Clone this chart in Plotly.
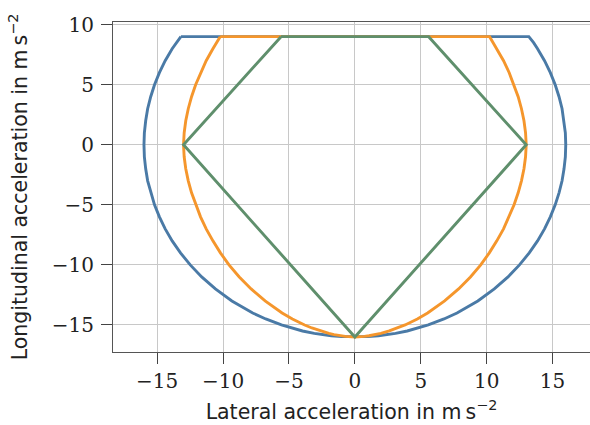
import plotly.graph_objects as go

# Right half of each envelope (top -> bottom), mirrored for the left half
blue_x_right = [13.2, 13.56, 13.86, 14.39, 14.83, 15.2, 15.49, 15.72, 15.87, 15.97, 16.0,
                15.97, 15.87, 15.72, 15.49, 15.2, 14.83, 14.39, 13.86, 13.23, 12.49,
                11.62, 10.58, 9.33, 7.75, 6.76, 5.57, 3.97, 3.08, 2.52, 1.79, 0.98, 0.0]
blue_y_right = [9, 8.5, 8, 7, 6, 5, 4, 3, 2, 1, 0,
                -1, -2, -3, -4, -5, -6, -7, -8, -9, -10,
                -11, -12, -13, -14, -14.5, -15, -15.5, -15.7, -15.8, -15.9, -15.97, -16]

orange_x_right = [10.22, 10.49, 10.77, 11.28, 11.71, 12.08, 12.39, 12.64, 12.83, 12.95, 13.0,
                  12.95, 12.83, 12.64, 12.39, 12.08, 11.71, 11.28, 10.77, 10.2, 9.55,
                  8.77, 7.87, 6.81, 5.52, 4.74, 3.81, 3.26, 2.61, 1.97, 1.58, 1.07, 0.73, 0.0]
orange_y_right = [9, 8.5, 8, 7, 6, 5, 4, 3, 2, 1, 0,
                  -1, -2, -3, -4, -5, -6, -7, -8, -9, -10,
                  -11, -12, -13, -14, -14.5, -15, -15.25, -15.5, -15.7, -15.8, -15.9, -15.95, -16]

green_x = [-5.6, 5.6, 13.0, 0.0, -13.0, -5.6]
green_y = [9, 9, 0, -16, 0, 9]

x_ticks = [-15, -10, -5, 0, 5, 10, 15]
y_ticks = [-15, -10, -5, 0, 5, 10]


def closed(xr, yr):
    xs = [-xr[0]] + list(xr) + [-v for v in reversed(xr[:-1])]
    ys = [yr[0]] + list(yr) + list(reversed(yr[:-1]))
    return xs, ys


bx, by = closed(blue_x_right, blue_y_right)
ox, oy = closed(orange_x_right, orange_y_right)

fig = go.Figure()
fig.add_trace(go.Scatter(x=bx, y=by, mode="lines",
                         line=dict(color="#4a7aa6", width=2.9)))
fig.add_trace(go.Scatter(x=ox, y=oy, mode="lines",
                         line=dict(color="#f5962c", width=2.9)))
fig.add_trace(go.Scatter(x=green_x, y=green_y, mode="lines",
                         line=dict(color="#5f8f6c", width=2.9)))

tickfont = dict(family="DejaVu Serif", size=20, color="#222222")
titlefont = dict(family="DejaVu Sans", size=20.5, color="#222222")

fig.update_layout(
    width=590, height=425,
    margin=dict(l=113, r=0, t=22, b=73, pad=0),
    plot_bgcolor="white", paper_bgcolor="white",
    showlegend=False,
    xaxis=dict(range=[-18.35, 17.84], tickvals=x_ticks,
               ticktext=[str(v).replace("-", "\u2212") for v in x_ticks],
               showgrid=True, gridcolor="#c8c8c8", gridwidth=1, zeroline=False,
               showline=True, linecolor="#555555", linewidth=1.2, mirror=True,
               ticks="outside", ticklen=11, tickcolor="#444444", tickwidth=1.2,
               tickfont=tickfont,
               title=dict(text="Lateral acceleration in m\u2009s<sup>\u22122</sup>",
                          font=titlefont, standoff=12)),
    yaxis=dict(range=[-17.25, 10.22], tickvals=y_ticks,
               ticktext=[str(v).replace("-", "\u2212") for v in y_ticks],
               showgrid=True, gridcolor="#c8c8c8", gridwidth=1, zeroline=False,
               showline=True, linecolor="#555555", linewidth=1.2,
               ticks="outside", ticklen=11, tickcolor="#444444", tickwidth=1.2,
               ticklabelstandoff=3,
               tickfont=tickfont,
               title=dict(text="Longitudinal acceleration in m\u2009s<sup>\u22122</sup>",
                          font=titlefont, standoff=18)),
)

fig.write_html("out.html")
